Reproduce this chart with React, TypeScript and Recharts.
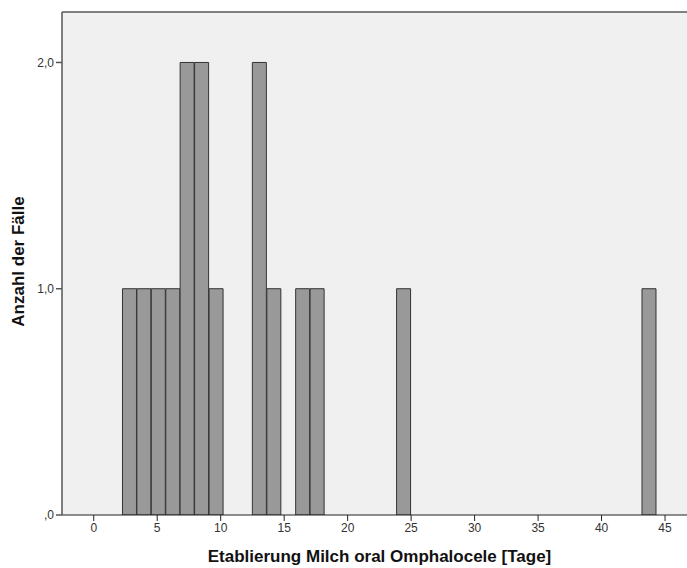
import React from "react";
import {
  BarChart,
  Bar,
  XAxis,
  YAxis,
  CartesianGrid,
  ReferenceLine,
  Label,
} from "recharts";

// histogram bins (centres in days) and number of cases per bin
const binCenters = [2.83, 3.96, 5.1, 6.24, 7.37, 8.51, 9.65, 13.06, 14.2, 16.47, 17.61, 24.42, 43.75];
const caseCounts = [1, 1, 1, 1, 2, 2, 1, 2, 1, 1, 1, 1, 1];
const xTicks = [0, 5, 10, 15, 20, 25, 30, 35, 40, 45];
const yTicks = [0, 1, 2];

const data = binCenters.map((x, i) => ({ x, count: caseCounts[i] }));

const FONT = '"Liberation Sans", Arial, sans-serif';
const Y_MAX = 2.223;

const formatY = (v: number) => (v === 0 ? ",0" : v.toFixed(1).replace(".", ","));

const App = () => {
  return (
    <div style={{ position: "absolute", left: 0, top: 0, background: "#fff" }}>
      <BarChart
        width={687}
        height={568}
        data={data}
        margin={{ top: 12, right: 0, bottom: 0, left: 0 }}
        barCategoryGap={0}
        barGap={0}
        style={{ fontFamily: FONT }}
      >
        <CartesianGrid fill="#f0f0f0" horizontal={false} vertical={false} />
        <XAxis
          dataKey="x"
          type="number"
          domain={[-2.5, 46.73]}
          ticks={xTicks}
          allowDataOverflow
          height={53}
          tickSize={6}
          stroke="#222"
          tick={{ fill: "#333", fontSize: 12 }}
        >
          <Label
            value="Etablierung Milch oral Omphalocele [Tage]"
            position="insideBottom"
            offset={6}
            dx={5}
            fontSize={17}
            fontWeight="bold"
            fill="#111"
          />
        </XAxis>
        <YAxis
          type="number"
          domain={[0, Y_MAX]}
          ticks={yTicks}
          allowDataOverflow
          width={62}
          tickSize={6}
          tickFormatter={formatY}
          stroke="#555"
          strokeWidth={1.5}
          tick={{ fill: "#333", fontSize: 12 }}
        >
          <Label
            value="Anzahl der Fälle"
            position="center"
            angle={-90}
            dx={-13}
            dy={-2}
            fontSize={17}
            fontWeight="bold"
            fill="#111"
          />
        </YAxis>
        <ReferenceLine y={Y_MAX} stroke="#808080" strokeWidth={2} />
        <Bar
          dataKey="count"
          fill="#999999"
          stroke="#333"
          strokeWidth={1}
          isAnimationActive={false}
        />
      </BarChart>
    </div>
  );
};

export default App;
